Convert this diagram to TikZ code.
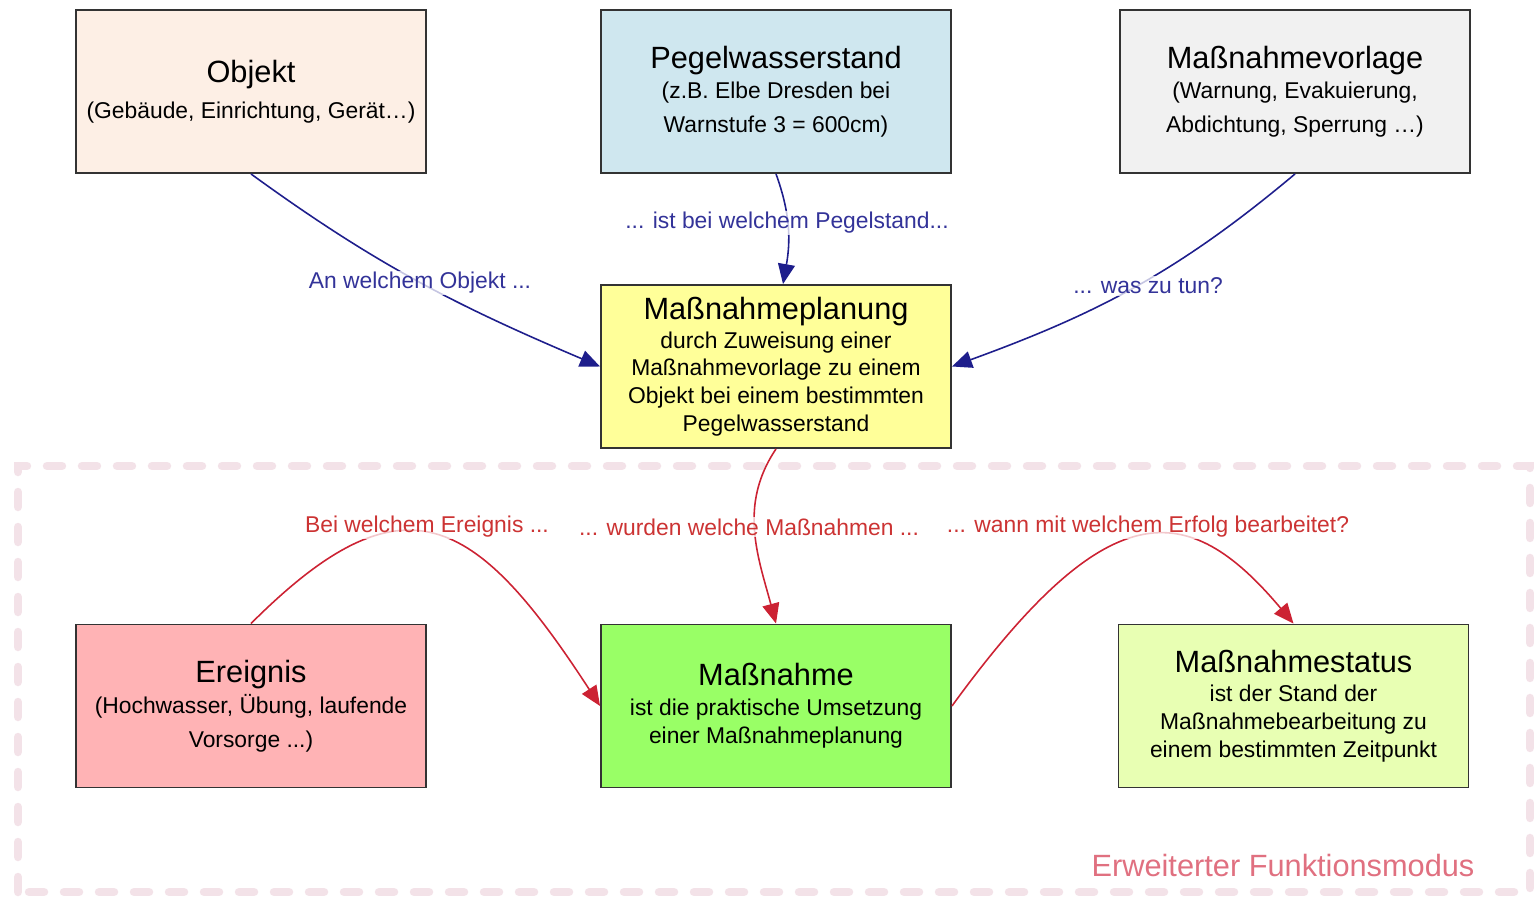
\documentclass[tikz,border=0pt]{standalone}
\usepackage{fontspec}
\setmainfont{Liberation Sans}
\usetikzlibrary{arrows.meta}

\definecolor{boxline}{HTML}{333333}
\definecolor{objektfill}{HTML}{FDEFE5}
\definecolor{pegelfill}{HTML}{CFE7EF}
\definecolor{vorlagefill}{HTML}{F1F1F1}
\definecolor{planungfill}{HTML}{FFFF99}
\definecolor{ereignisfill}{HTML}{FFB3B5}
\definecolor{massnahmefill}{HTML}{99FF66}
\definecolor{statusfill}{HTML}{E8FFB3}
\definecolor{bluearrow}{HTML}{1E1E8C}
\definecolor{bluetext}{HTML}{333399}
\definecolor{redarrow}{HTML}{CC2233}
\definecolor{redtext}{HTML}{CC3333}
\definecolor{extline}{HTML}{F3E2E8}
\definecolor{exttext}{HTML}{E07080}

\newcommand{\boxtitle}[1]{{\fontsize{17.5}{21}\selectfont #1}}

\begin{document}
\begin{tikzpicture}[
    box/.style={draw=boxline, line width=1.1pt, minimum width=7cm,
      minimum height=3.26cm, align=center, inner sep=0pt},
    wide/.style={font=\fontsize{13}{19.5}\selectfont},
    narrow/.style={font=\fontsize{13}{15.8}\selectfont},
    blueflow/.style={draw=bluearrow, line width=0.9pt,
      -{Triangle[length=0.4cm,width=0.34cm]}},
    redflow/.style={draw=redarrow, line width=0.9pt,
      -{Triangle[length=0.4cm,width=0.34cm]}},
    question/.style={font=\fontsize{13}{15}\selectfont, fill=white,
      fill opacity=0.75, text opacity=1, inner sep=1pt},
  ]
    \useasboundingbox (0,0) rectangle (30.74,18);

    % erweiterter Bereich
    \draw[extline, line width=0.17cm, line cap=round,
      dash pattern=on 0.3cm off 0.4cm] (0.36,0.16) rectangle (30.6,8.68);
    \node[text=exttext, font=\fontsize{17.5}{21}\selectfont] (modus) at (25.66,0.68) {Erweiterter Funktionsmodus};

    % Stammdaten
    \node[box, wide, fill=objektfill] (objekt) at (5.02,16.17)
      {\boxtitle{Objekt}\\[1pt] (Gebäude, Einrichtung, Gerät…)};
    \node[box, wide, fill=pegelfill] (pegel) at (15.52,16.17)
      {\boxtitle{Pegelwasserstand}\\[-2.5pt] (z.B. Elbe Dresden bei\\ Warnstufe 3 = 600cm)};
    \node[box, wide, fill=vorlagefill] (vorlage) at (25.9,16.17)
      {\boxtitle{Maßnahmevorlage}\\[-2.5pt] (Warnung, Evakuierung,\\ Abdichtung, Sperrung …)};
    \node[box, narrow, fill=planungfill] (planung) at (15.52,10.67)
      {\boxtitle{Maßnahmeplanung}\\[0.7pt] durch Zuweisung einer\\ Maßnahmevorlage zu einem\\ Objekt bei einem bestimmten\\ Pegelwasserstand};

    % Ereignisbearbeitung
    \node[box, wide, fill=ereignisfill] (ereignis) at (5.02,3.88)
      {\boxtitle{Ereignis}\\[-2pt] (Hochwasser, Übung, laufende\\ Vorsorge ...)};
    \node[box, narrow, fill=massnahmefill] (massnahme) at (15.52,3.88)
      {\boxtitle{Maßnahme}\\[1.2pt] ist die praktische Umsetzung\\ einer Maßnahmeplanung};
    \node[box, narrow, fill=statusfill] (status) at (25.87,3.88)
      {\boxtitle{Maßnahmestatus}\\[1.2pt] ist der Stand der\\ Maßnahmebearbeitung zu\\ einem bestimmten Zeitpunkt};

    \draw[blueflow] (objekt.south) to[out=-36, in=157] (planung.west);
    \draw[blueflow] (pegel.south) to[out=-70, in=80] ([xshift=0.14cm]planung.north);
    \draw[blueflow] (vorlage.south) to[out=-140, in=20] (planung.east);

    \draw[redflow] (planung.south) to[out=-124, in=105] (massnahme.north);
    \draw[redflow] (ereignis.north) to[out=45, in=123, out distance=4.3cm, in distance=4.6cm] (massnahme.west);
    \draw[redflow] (massnahme.east) to[out=54, in=130, out distance=5.3cm, in distance=3.3cm] (status.north);

    \node[question, text=bluetext] (anobjekt) at (8.40,12.34) {An welchem Objekt ...};
    \node[question, text=bluetext] (beipegel) at (15.74,13.54) {... ist bei welchem Pegelstand...};
    \node[question, text=bluetext] (zutun) at (22.96,12.28) {... was zu tun?};
    \node[question, text=redtext] (beiereignis) at (8.54,7.46) {Bei welchem Ereignis ...};
    \node[question, text=redtext] (welchemassnahmen) at (14.98,7.46) {... wurden welche Maßnahmen ...};
    \node[question, text=redtext] (mitwelchemerfolg) at (22.96,7.46) {... wann mit welchem Erfolg bearbeitet?};

\end{tikzpicture}
\end{document}
